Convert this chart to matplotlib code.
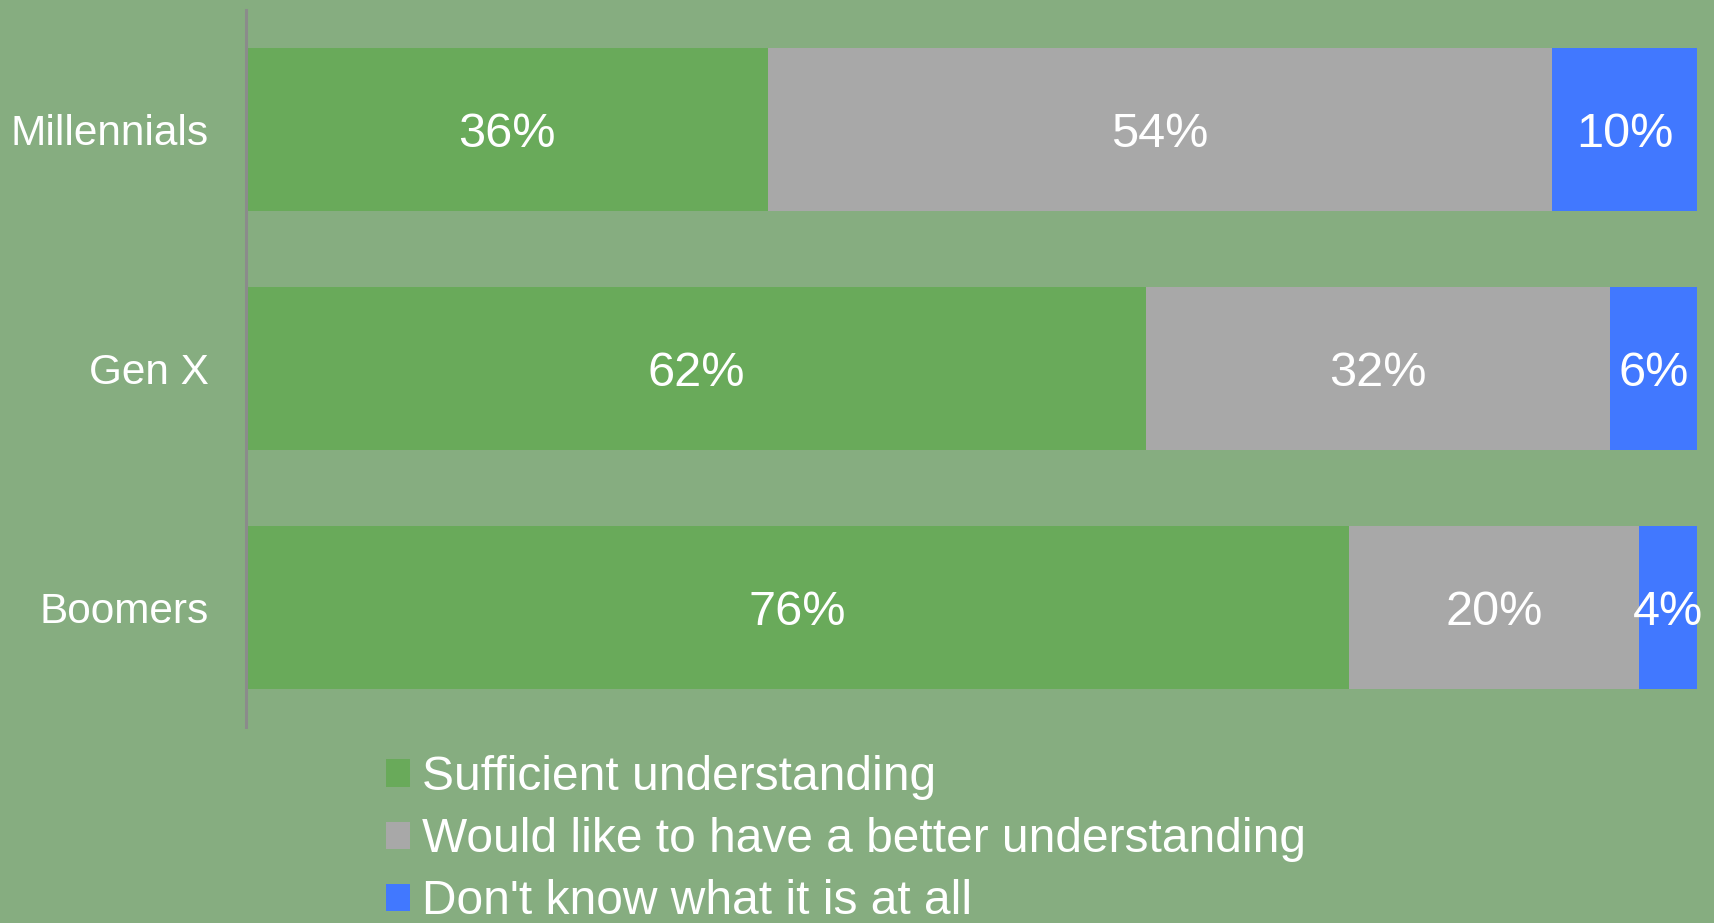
import matplotlib
matplotlib.use("Agg")
import matplotlib.pyplot as plt

plt.rcParams['font.family'] = ['Liberation Sans', 'DejaVu Sans']

groups = ["Millennials", "Gen X", "Boomers"]
series_names = ["Sufficient understanding",
                "Would like to have a better understanding",
                "Don't know what it is at all"]
sufficient = [36, 62, 76]
better = [54, 32, 20]
dont_know = [10, 6, 4]
colors = ["#69AA5A", "#A8A8A8", "#4178FF"]
bg = "#86AD80"

fig = plt.figure(figsize=(17.15, 9.23), dpi=100, facecolor=bg)
ax = fig.add_axes([246 / 1715, 1 - 727 / 923, 1451 / 1715, 717 / 923])
ax.set_facecolor(bg)

ypos = list(range(len(groups)))
left = [0] * len(groups)
for vals, name, col in zip([sufficient, better, dont_know], series_names, colors):
    bars = ax.barh(ypos, vals, left=left, height=0.685, color=col, label=name)
    for b, v in zip(bars, vals):
        ax.text(b.get_x() + b.get_width() / 2, b.get_y() + b.get_height() / 2,
                f"{v}%", ha="center", va="center_baseline", color="white", fontsize=35)
    left = [l + v for l, v in zip(left, vals)]

ax.set_xlim(0, 100)
ax.set_ylim(2.5, -0.5)
ax.set_yticks(ypos)
ax.set_yticklabels(groups, fontsize=30.5, color="white", va="center_baseline")
ax.tick_params(axis="y", length=0, pad=27)
ax.set_xticks([])
for s in ["top", "right", "bottom"]:
    ax.spines[s].set_visible(False)
ax.spines["left"].set_color("#8B8B8B")
ax.spines["left"].set_linewidth(2.2)

handles, labels = ax.get_legend_handles_labels()
leg = fig.legend(handles, labels, loc="upper left",
                 bbox_to_anchor=(386 / 1715, 1 - 755 / 923),
                 frameon=False, fontsize=34.5, handlelength=0.5, handleheight=0.5,
                 handletextpad=0.25, labelspacing=0.36, borderpad=0, borderaxespad=0)
for t in leg.get_texts():
    t.set_color("white")

fig.savefig("out.png", dpi=100, facecolor=bg)
